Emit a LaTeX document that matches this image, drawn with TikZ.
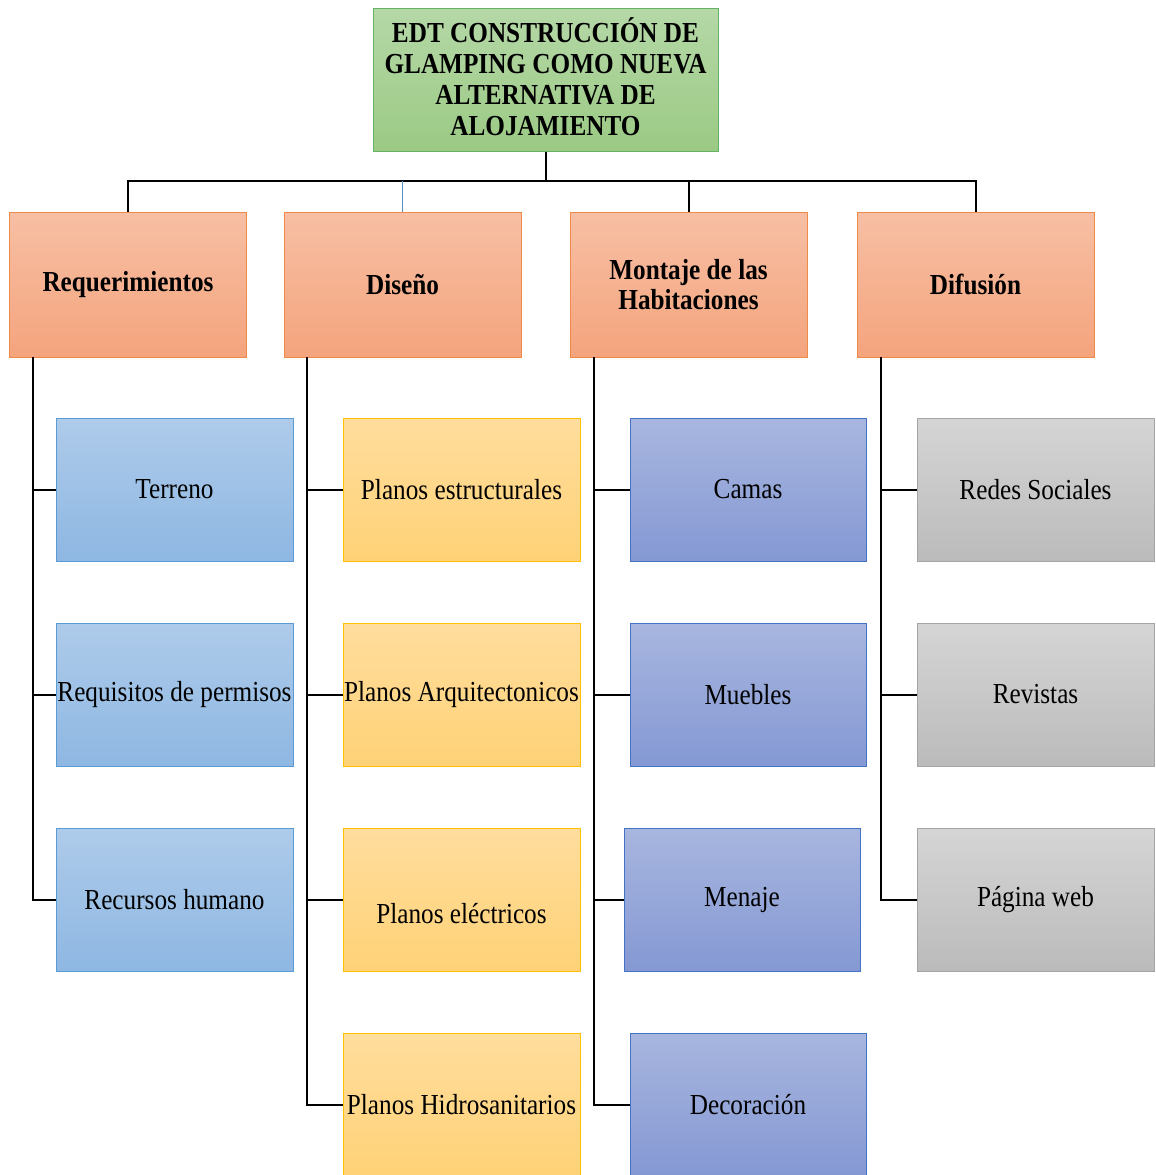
\documentclass[tikz,border=0pt]{standalone}
\usepackage{fontspec}
\setmainfont{Liberation Serif}[FakeStretch=0.87]
\begin{document}
\begin{tikzpicture}[x=1pt,y=-1pt,
  box/.style={draw, line width=1pt, inner sep=0pt, align=center, font=\fontsize{29}{30}\selectfont},
  rootbox/.style={box, draw=green!50!black!60!white, top color=rootT, bottom color=rootB, minimum width=345pt, minimum height=143pt, font=\fontsize{29}{31}\selectfont\bfseries},
  l1box/.style={box, draw=l1D, top color=l1T, bottom color=l1B, minimum width=237pt, minimum height=145pt, font=\fontsize{29}{30}\selectfont\bfseries},
  reqbox/.style={box, draw=reqD, top color=reqT, bottom color=reqB, minimum width=237pt, minimum height=143pt},
  disbox/.style={box, draw=disD, top color=disT, bottom color=disB, minimum width=237pt, minimum height=143pt},
  monbox/.style={box, draw=monD, top color=monT, bottom color=monB, minimum width=236pt, minimum height=143pt},
  difbox/.style={box, draw=difD, top color=difT, bottom color=difB, minimum width=237pt, minimum height=143pt},
  conn/.style={line width=2pt, black}
]
\definecolor{rootT}{HTML}{B5D8A7}\definecolor{rootB}{HTML}{9BCA84}
\definecolor{l1T}{HTML}{F7BFA4}\definecolor{l1B}{HTML}{F4A47D}\definecolor{l1D}{HTML}{F08A48}
\definecolor{reqT}{HTML}{AECBEA}\definecolor{reqB}{HTML}{8EB7E2}\definecolor{reqD}{HTML}{5B9BD5}
\definecolor{disT}{HTML}{FFDD9D}\definecolor{disB}{HTML}{FFD277}\definecolor{disD}{HTML}{FFC000}
\definecolor{monT}{HTML}{A8B6DF}\definecolor{monB}{HTML}{8498D3}\definecolor{monD}{HTML}{4472C4}
\definecolor{difT}{HTML}{D5D5D5}\definecolor{difB}{HTML}{BBBBBB}\definecolor{difD}{HTML}{A5A5A5}
\definecolor{blueline}{HTML}{5B8EC4}
\useasboundingbox (0,0) rectangle (1156,1175);

\node[rootbox] (root) at (545.5,79.5) {\raisebox{-7.5pt}[0pt][0pt]{\begin{tabular}{@{}c@{}}EDT CONSTRUCCIÓN DE\\GLAMPING COMO NUEVA\\ALTERNATIVA DE\\ALOJAMIENTO\end{tabular}}};

\node[l1box] (req) at (128,284.5) {Requerimientos};
\node[l1box] (dis) at (402.5,284.5) {Diseño};
\node[l1box] (mon) at (688.5,284.5) {Montaje de las\\Habitaciones};
\node[l1box] (dif) at (975.5,284.5) {Difusión};

\coordinate (bar) at (545.5,181);
\draw[conn] (root.south) -- (bar);
\draw[conn] (req.north) |- (bar) -| (dif.north);
\draw[conn] (bar) -| (mon.north);
\draw[line width=1.2pt, blueline] (dis.north) -- (dis.north |- bar);

% Requerimientos children
\node[reqbox] (ter) at (174.5,489.5) {Terreno};
\node[reqbox] (rp) at (174.5,694.5) {Requisitos de permisos};
\node[reqbox] (rh) at (174.5,899.5) {Recursos humano};
% Diseño children
\node[disbox] (pe) at (461.5,489.5) {Planos estructurales};
\node[disbox] (pa) at (461.5,694.5) {Planos Arquitectonicos};
\node[disbox] (pel) at (461.5,899.5) {\raisebox{-24pt}[0pt][0pt]{Planos eléctricos}};
\node[disbox] (ph) at (461.5,1104.5) {Planos Hidrosanitarios};
% Montaje children
\node[monbox] (cam) at (748,489.5) {Camas};
\node[monbox] (mue) at (748,694.5) {Muebles};
\node[monbox] (men) at (742,899.5) {Menaje};
\node[monbox] (dec) at (748,1104.5) {Decoración};
% Difusión children
\node[difbox] (rs) at (1035.5,489.5) {Redes Sociales};
\node[difbox] (rev) at (1035.5,694.5) {Revistas};
\node[difbox] (pw) at (1035.5,899.5) {Página web};

\coordinate (sr) at (33,357);
\coordinate (sd) at (307,357);
\coordinate (sm) at (594,357);
\coordinate (sf) at (881,357);

\draw[conn] (sr) |- (ter.west);
\draw[conn] (sr) |- (rp.west);
\draw[conn] (sr) |- (rh.west);
\draw[conn] (sd) |- (pe.west);
\draw[conn] (sd) |- (pa.west);
\draw[conn] (sd) |- (pel.west);
\draw[conn] (sd) |- (ph.west);
\draw[conn] (sm) |- (cam.west);
\draw[conn] (sm) |- (mue.west);
\draw[conn] (sm) |- (men.west);
\draw[conn] (sm) |- (dec.west);
\draw[conn] (sf) |- (rs.west);
\draw[conn] (sf) |- (rev.west);
\draw[conn] (sf) |- (pw.west);
\end{tikzpicture}
\end{document}
